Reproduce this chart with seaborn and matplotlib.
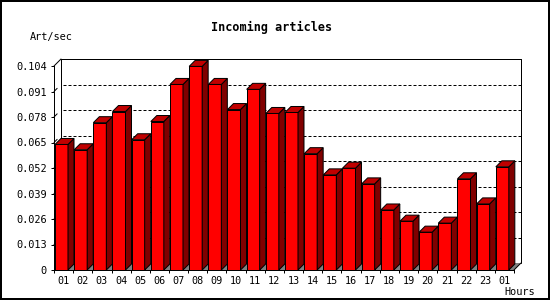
import numpy as np
import pandas as pd
import matplotlib
matplotlib.use("Agg")
import matplotlib.pyplot as plt
import seaborn as sns
from matplotlib.patches import Polygon, Rectangle
from matplotlib.lines import Line2D
from matplotlib.transforms import IdentityTransform, offset_copy

# ---- data ----
hours = ["01", "02", "03", "04", "05", "06", "07", "08", "09", "10", "11", "12",
         "13", "14", "15", "16", "17", "18", "19", "20", "21", "22", "23", "01"]
rates = [0.0640, 0.0613, 0.0751, 0.0808, 0.0664, 0.0757, 0.0946, 0.1038,
         0.0946, 0.0818, 0.0921, 0.0798, 0.0803, 0.0593, 0.0485, 0.0519,
         0.0439, 0.0306, 0.0249, 0.0193, 0.0239, 0.0465, 0.0337, 0.0526]
ytick_values = [0, 0.013, 0.026, 0.039, 0.052, 0.065, 0.078, 0.091, 0.104]
ytick_labels = ["0", "0.013", "0.026", "0.039", "0.052", "0.065", "0.078", "0.091", "0.104"]
title = "Incoming articles"
ylabel = "Art/sec"
xlabel = "Hours"

# ---- style ----
sns.set_theme(style="ticks")
plt.rcParams["font.family"] = ["DejaVu Sans Mono", "DejaVu Sans"]

W, H, DPI = 550, 300, 100
DEPTH_FRAME = 7
DEPTH_BAR = 6
LW = 72 / DPI  # 1 pixel

fig = plt.figure(figsize=(W / DPI, H / DPI), dpi=DPI, facecolor="white")
ax = fig.add_axes([54 / W, 30 / H, 460 / W, 204 / H])
ax.set_facecolor("none")

df = pd.DataFrame({"slot": np.arange(len(hours)), "rate": rates})
sns.barplot(data=df, x="slot", y="rate", color="#ff0000", saturation=1,
            width=0.678, edgecolor="black", linewidth=LW, errorbar=None, ax=ax)
bars = list(ax.patches)
for p in bars:
    p.set_zorder(3)

n = len(hours)
shift = 0.109
x0, x1 = -0.5 + shift, n - 0.5 + shift
ytop = ytick_values[-1]
ax.set_xlim(x0, x1)
ax.set_ylim(0, ytop)

# ticks
ax.set_xticks(np.arange(n + 1) - 0.5 + shift)
ax.set_xticklabels([""] * (n + 1))
ax.set_xticks(np.arange(n) + shift, minor=True)
ax.set_xticklabels(hours, minor=True)
ax.tick_params(axis="x", which="major", bottom=True, length=2.3, width=LW,
               direction="out", color="black")
ax.tick_params(axis="x", which="minor", bottom=True, length=0, pad=4.2,
               labelsize=7.3, labelcolor="black")
ax.set_yticks(ytick_values, ytick_labels)
ax.tick_params(axis="y", left=True, length=2.3, width=LW, direction="out",
               pad=3, labelsize=7.4, labelcolor="black", color="black")
ax.set_xlabel("")
ax.set_ylabel("")
for s in ["top", "right"]:
    ax.spines[s].set_visible(False)
for s in ["left", "bottom"]:
    ax.spines[s].set_color("black")
    ax.spines[s].set_linewidth(LW)
    ax.spines[s].set_zorder(4)

# back plane (offset copy of data transform)
back = offset_copy(ax.transData, fig=fig, x=DEPTH_FRAME, y=DEPTH_FRAME, units="dots")
ax.plot([x0, x1], [ytop, ytop], transform=back, color="black", lw=LW, clip_on=False, zorder=1)
ax.plot([x1, x1], [0, ytop], transform=back, color="black", lw=LW, clip_on=False, zorder=1)
ax.plot([x0, x0], [0, ytop], transform=back, color="black", lw=LW, clip_on=False, zorder=1)
for v in ytick_values[1:-1]:
    ax.plot([x0 + 0.1, x1], [v, v], transform=back, color="black", lw=LW,
            linestyle=(0, (3, 2)), clip_on=False, zorder=1)

ident = IdentityTransform()


def P(x, y):
    return np.array(ax.transData.transform((x, y)))


d = np.array([DEPTH_FRAME, DEPTH_FRAME])
# floor
f0, f1 = P(x0, 0), P(x1, 0)
ax.add_patch(Polygon([f0, f1, f1 + d, f0 + d], closed=True, facecolor="#808080",
                     edgecolor="none", transform=ident, clip_on=False, zorder=1.5))
# diagonals
for a in [P(x0, ytop), P(x1, 0)]:
    b = a + d
    ax.add_line(Line2D([a[0], b[0]], [a[1], b[1]], color="black", lw=LW,
                       transform=ident, clip_on=False, zorder=2))
for v in ytick_values[1:-1]:
    a = P(x0, v)
    b = a + d * 0.45
    ax.add_line(Line2D([a[0], b[0]], [a[1], b[1]], color="black", lw=LW,
                       transform=ident, clip_on=False, zorder=2))

# 3D bar faces
db = np.array([DEPTH_BAR, DEPTH_BAR])
for p in bars:
    bx, bw, bh = p.get_x(), p.get_width(), p.get_height()
    bl = P(bx, 0)
    br = P(bx + bw, 0)
    tl = P(bx, bh)
    tr = P(bx + bw, bh)
    ax.add_patch(Polygon([tl, tr, tr + db, tl + db], closed=True, facecolor="#c00000",
                         edgecolor="black", lw=LW, transform=ident, clip_on=False, zorder=3.2))
    ax.add_patch(Polygon([br, br + db, tr + db, tr], closed=True, facecolor="#800000",
                         edgecolor="black", lw=LW, transform=ident, clip_on=False, zorder=3.1))

# texts
fig.text(272 / W, 1 - 27 / H, title, ha="center", va="center", weight="bold",
         size=8.5, color="black")
fig.text(30 / W, 1 - 37 / H, ylabel, ha="left", va="center", size=7.4, color="black")
fig.text(504 / W, 1 - 292 / H, xlabel, ha="left", va="center", size=7.4, color="black")

# outer border
fig.add_artist(Rectangle((0, 0), 1, 1, transform=fig.transFigure, fill=False,
                         edgecolor="black", lw=2.88))

fig.savefig("out.png", dpi=DPI, facecolor="white")
